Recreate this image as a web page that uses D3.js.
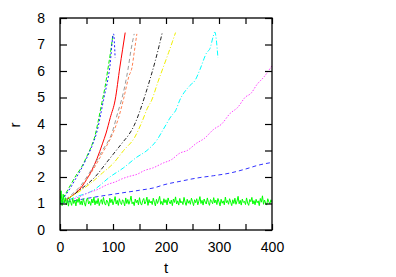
<!DOCTYPE html>
<html lang="en">
<head>
<meta charset="utf-8" />
<title>r vs t</title>
<script src="https://cdn.jsdelivr.net/npm/d3@7"></script>
<style>
  body { margin: 0; background: #fff; font-family: "Liberation Sans", Arial, sans-serif; }
  .tick text { font-size: 14px; fill: #000; }
</style>
</head>
<body>
<div id="chart"></div>
<script>
var width = 396, height = 277;
var margin = {left: 60, top: 18, right: 124, bottom: 47};
var w = width - margin.left - margin.right;   // 212
var h = height - margin.top - margin.bottom;  // 212

var xTicks = [0, 100, 200, 300, 400];
var yTicks = [0, 1, 2, 3, 4, 5, 6, 7, 8];

// each run: t values and r values
var greenDashT = [0, 10, 20, 30, 40, 50, 60, 66, 72, 79, 85, 91, 96, 100];
var greenDashR = [1.0, 1.35, 1.7, 2.05, 2.35, 2.75, 3.2, 3.55, 4.1, 4.8, 5.4, 6.15, 6.8, 7.4];

var blueDotT = [0, 10, 20, 30, 40, 50, 60, 69, 82, 94, 101, 104];
var blueDotR = [1.0, 1.3, 1.6, 1.95, 2.3, 2.7, 3.15, 3.66, 4.9, 6.15, 7.4, 6.5];

var redT = [0, 20, 40, 50, 60, 70, 80, 87, 95, 104, 113, 118, 123];
var redR = [1.0, 1.25, 1.6, 1.9, 2.25, 2.7, 3.25, 3.66, 4.25, 4.9, 6.15, 6.8, 7.45];

var grayT = [0, 20, 40, 60, 80, 98, 110, 116, 129, 134, 140];
var grayR = [1.0, 1.3, 1.7, 2.3, 3.0, 3.66, 4.5, 4.9, 6.15, 6.8, 7.4];

var coralT = [0, 20, 40, 60, 80, 100, 110, 120, 130, 136, 140, 145];
var coralR = [1.0, 1.25, 1.65, 2.2, 2.9, 3.66, 4.2, 4.95, 5.8, 6.15, 6.7, 7.4];

var blackT = [0, 20, 40, 66, 90, 100, 110, 120, 130, 140, 150, 160, 170, 180, 187, 193];
var blackR = [1.0, 1.25, 1.55, 2.0, 2.6, 2.85, 3.1, 3.35, 3.6, 3.95, 4.45, 5.05, 5.7, 6.4, 6.95, 7.45];

var yellowT = [0, 20, 40, 60, 80, 100, 120, 141, 155, 165, 173, 185, 195, 205, 212, 218];
var yellowR = [1.0, 1.25, 1.5, 1.8, 2.15, 2.5, 3.0, 3.5, 4.1, 4.6, 4.9, 5.6, 6.15, 6.7, 7.1, 7.45];

var cyanT = [0, 30, 63, 94, 120, 145, 164, 183, 195, 210, 218, 226, 245, 255, 264, 277, 283, 289, 292, 298];
var cyanR = [1.0, 1.25, 1.5, 2.0, 2.35, 2.75, 3.0, 3.4, 3.8, 4.3, 4.5, 4.9, 5.45, 5.65, 6.05, 6.7, 6.85, 7.3, 7.47, 6.5];

var magentaT = [0, 15, 30, 45, 53, 70, 90, 105, 117, 132, 145, 160, 175, 195, 210, 226, 240, 258, 272, 290, 305, 321, 335, 350, 360, 372, 385, 400];
var magentaR = [1.0, 1.12, 1.2, 1.33, 1.4, 1.52, 1.72, 1.82, 1.93, 2.03, 2.1, 2.25, 2.34, 2.53, 2.65, 2.9, 3.0, 3.28, 3.45, 3.8, 4.0, 4.4, 4.62, 5.02, 5.15, 5.5, 5.78, 6.2];

var blueDashT = [0, 53, 117, 150, 179, 195, 230, 258, 290, 321, 350, 375, 400];
var blueDashR = [1.0, 1.2, 1.4, 1.5, 1.6, 1.7, 1.85, 1.96, 2.05, 2.15, 2.3, 2.45, 2.55];

// the flat noisy run, sampled every 2 time units from t = 0 to 400
var noiseStep = 2;
var noiseR = [
  1.00,1.48,0.92,1.35,1.02,1.22,0.95,1.15,0.90,1.18,1.05,0.93,1.20,1.00,1.12,0.91,1.16,1.04,1.22,0.96,
  1.10,0.94,1.18,1.03,0.90,1.14,1.21,0.98,1.08,0.93,1.17,1.02,1.24,0.95,1.11,0.99,1.19,0.92,1.07,1.15,
  0.97,1.23,1.01,0.94,1.13,1.06,0.90,1.20,1.03,1.16,0.95,1.09,1.26,0.98,1.12,0.93,1.18,1.04,0.96,1.14,
  1.08,0.91,1.21,1.00,1.15,0.97,1.10,1.28,0.99,1.06,0.92,1.17,1.03,1.13,0.95,1.22,1.01,0.94,1.11,1.19,
  0.98,1.07,1.24,0.93,1.15,1.02,1.09,0.96,1.20,1.05,0.91,1.16,1.00,1.12,1.27,0.97,1.08,0.94,1.18,1.03,
  1.14,0.95,1.21,1.06,0.99,1.13,0.92,1.17,1.04,1.25,0.98,1.10,0.94,1.19,1.02,1.08,0.96,1.23,1.05,0.93,
  1.16,1.01,1.11,0.97,1.20,1.07,0.92,1.14,1.03,1.18,0.95,1.09,1.26,1.00,1.12,0.94,1.17,1.05,0.98,1.21,
  1.04,0.93,1.15,1.08,0.99,1.22,1.02,1.13,0.96,1.19,1.06,0.91,1.16,1.01,1.10,0.95,1.24,1.03,1.11,0.97,
  1.18,1.05,0.92,1.14,1.00,1.20,0.97,1.09,1.27,0.99,1.12,0.94,1.17,1.04,1.08,0.96,1.21,1.02,0.93,1.15,
  1.07,1.23,0.98,1.11,0.95,1.16,1.03,1.10,0.92,1.19,1.05,1.29,0.97,1.13,1.01,0.94,1.18,1.06,0.99,1.14,
  1.05
];

var runs = [
  {t: greenDashT, r: greenDashR, color: "#00ee00", dash: "4,2"},
  {t: blueDotT,   r: blueDotR,   color: "#2222ff", dash: "2,2"},
  {t: redT,       r: redR,       color: "#ff0000", dash: null},
  {t: grayT,      r: grayR,      color: "#999999", dash: "4,3"},
  {t: coralT,     r: coralR,     color: "#ff7f50", dash: "3,2"},
  {t: blackT,     r: blackR,     color: "#222222", dash: "4,2,1,2"},
  {t: yellowT,    r: yellowR,    color: "#f0f000", dash: "5,2,1,2"},
  {t: cyanT,      r: cyanR,      color: "#00ffff", dash: "5,2,1,2"},
  {t: magentaT,   r: magentaR,   color: "#ff44ff", dash: "1.5,1.5"},
  {t: blueDashT,  r: blueDashR,  color: "#3333ff", dash: "4,3"},
  {t: noiseR.map(function(d, i) { return i * noiseStep; }), r: noiseR, color: "#00ff00", dash: null, linear: true}
];

var x = d3.scaleLinear().domain([0, 400]).range([0, w]);
var y = d3.scaleLinear().domain([0, 8]).range([h, 0]);

var svg = d3.select("#chart").append("svg")
    .attr("width", width)
    .attr("height", height);

var g = svg.append("g")
    .attr("transform", "translate(" + margin.left + "," + margin.top + ")");

g.append("clipPath").attr("id", "clip")
  .append("rect").attr("width", w).attr("height", h);

var plot = g.append("g").attr("clip-path", "url(#clip)");

runs.forEach(function(run) {
  var pts = run.t.map(function(t, i) { return [t, run.r[i]]; });
  var line = d3.line()
      .x(function(d) { return x(d[0]); })
      .y(function(d) { return y(d[1]); })
      .curve(run.linear ? d3.curveLinear : d3.curveMonotoneX);
  plot.append("path")
      .datum(pts)
      .attr("fill", "none")
      .attr("stroke", run.color)
      .attr("stroke-width", 1)
      .attr("stroke-dasharray", run.dash)
      .attr("d", line);
});

// axes with inward ticks on all four sides
var minorX = d3.range(0, 401, 50);
g.append("g").attr("transform", "translate(0," + h + ")")
  .call(d3.axisBottom(x).tickValues(minorX).tickSize(-6).tickPadding(12)
        .tickFormat(function(d) { return xTicks.indexOf(d) >= 0 ? d : ""; }));
g.append("g")
  .call(d3.axisTop(x).tickValues(minorX).tickSize(-6).tickFormat(""));
g.append("g")
  .call(d3.axisLeft(y).tickValues(yTicks).tickSize(-7).tickPadding(15));
g.append("g").attr("transform", "translate(" + w + ",0)")
  .call(d3.axisRight(y).tickValues(yTicks).tickSize(-7).tickFormat(""));

g.selectAll(".domain").remove();
g.selectAll(".tick line").attr("stroke", "#000").attr("stroke-width", 1.2);

g.append("rect")
    .attr("width", w).attr("height", h)
    .attr("fill", "none").attr("stroke", "#000").attr("stroke-width", 1.3);

svg.append("text")
    .attr("x", margin.left + w / 2).attr("y", 273)
    .attr("text-anchor", "middle")
    .style("font-size", "15px")
    .text("t");

svg.append("text")
    .attr("transform", "translate(20," + (margin.top + h / 2 + 1) + ") rotate(-90)")
    .attr("text-anchor", "middle")
    .style("font-size", "15px")
    .text("r");
</script>
</body>
</html>
